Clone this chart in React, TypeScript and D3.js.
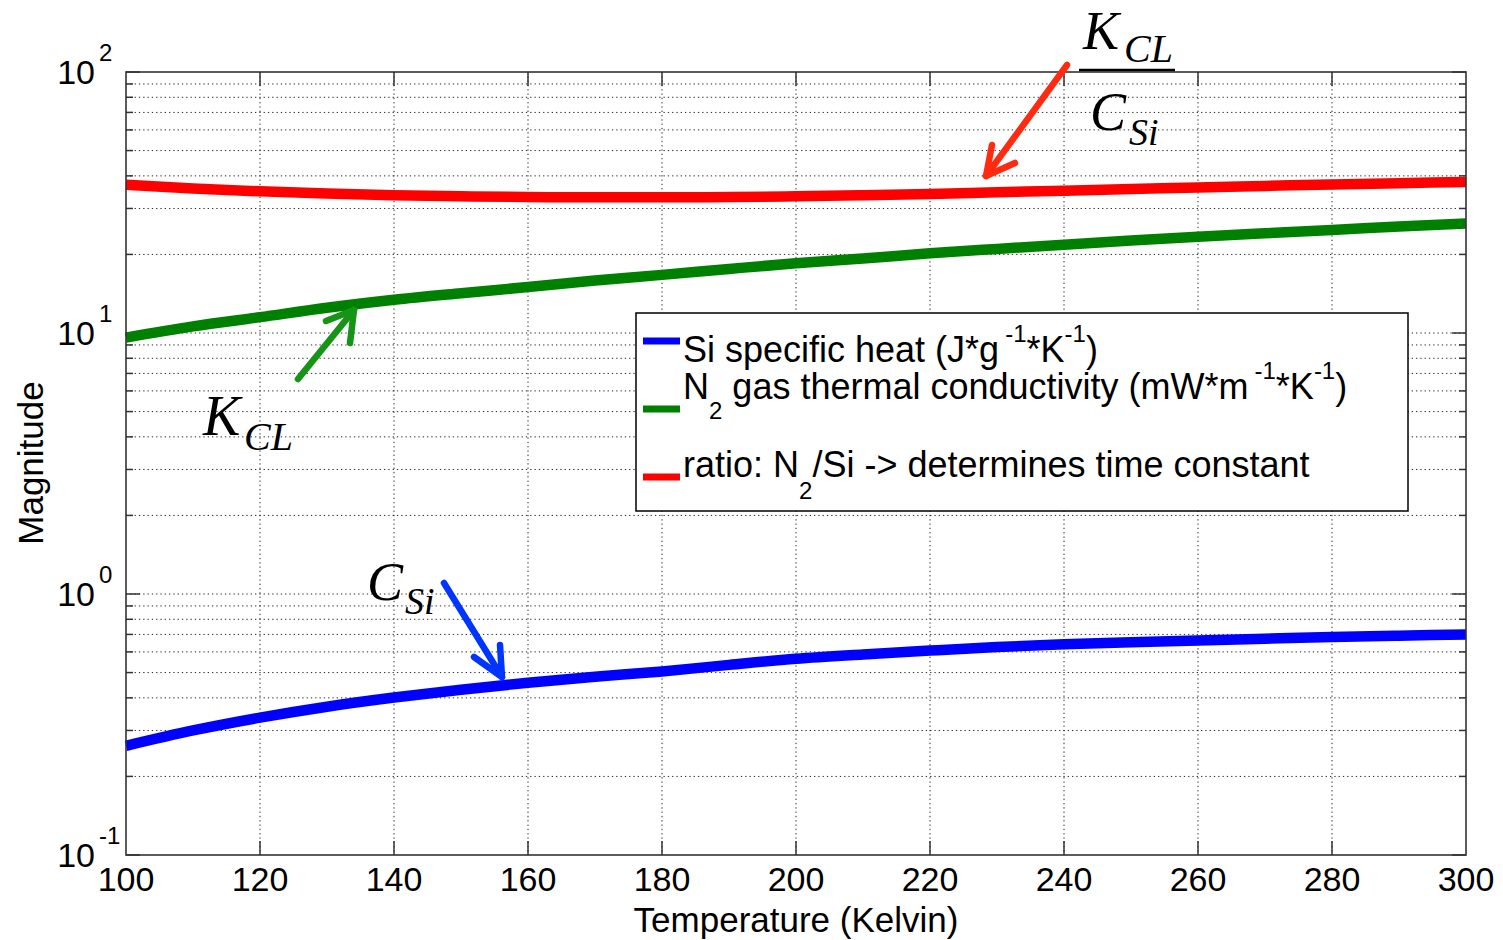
import * as d3 from 'd3';

// temperature samples (Kelvin)
const temps = [100, 110, 120, 130, 140, 150, 160, 170, 180, 190, 200, 210, 220, 230, 240, 250, 260, 270, 280, 290, 300];

// Si specific heat (J*g^-1*K^-1)
const siHeat = [0.262, 0.3, 0.336, 0.37, 0.401, 0.43, 0.457, 0.482, 0.505, 0.535, 0.565, 0.587, 0.607, 0.626, 0.642, 0.654, 0.664, 0.674, 0.684, 0.692, 0.7];

// N2 gas thermal conductivity (mW*m^-1*K^-1)
const n2Cond = [9.6, 10.6, 11.5, 12.5, 13.4, 14.2, 15.0, 15.9, 16.7, 17.6, 18.5, 19.3, 20.2, 21.0, 21.8, 22.6, 23.4, 24.1, 24.8, 25.6, 26.3];

// ratio N2/Si
const ratio = [37.0, 35.8, 34.9, 34.2, 33.7, 33.4, 33.2, 33.1, 33.1, 33.2, 33.4, 33.7, 34.1, 34.6, 35.1, 35.6, 36.1, 36.6, 37.1, 37.5, 37.9];

const xTicks = [100, 120, 140, 160, 180, 200, 220, 240, 260, 280, 300];
const yDecades = [-1, 0, 1, 2];

const W = 1503;
const H = 940;
const left = 126, right = 1466, top = 72, bottom = 855;
const SANS = "'Liberation Sans', Arial, Helvetica, sans-serif";
const SERIF = "'Liberation Serif', 'Times New Roman', serif";

export default function App() {
  const x = d3.scaleLinear().domain([100, 300]).range([left, right]);
  const y = d3.scaleLog().domain([0.1, 100]).range([bottom, top]);

  const line = d3.line<number>()
    .x((_, i) => x(temps[i]))
    .y(d => y(d))
    .curve(d3.curveMonotoneX);

  // grid values 1..9 per decade
  const gridVals: { v: number; major: boolean }[] = [];
  yDecades.slice(0, 3).forEach(d => {
    for (let k = 1; k <= 9; k++) gridVals.push({ v: k * Math.pow(10, d), major: k === 1 });
  });
  gridVals.push({ v: 100, major: true });

  const dotted = { stroke: '#111', strokeWidth: 1, strokeDasharray: '1.3,3', opacity: 0.9 };

  const series = [
    { values: ratio, color: '#ff0000' },
    { values: n2Cond, color: '#008000' },
    { values: siHeat, color: '#0000ff' },
  ];

  return (
    <svg width={W} height={H} style={{ position: 'absolute', left: 0, top: 0, background: '#fff' }}>
      <rect x={0} y={0} width={W} height={H} fill="#fff" />

      {/* grid */}
      {xTicks.slice(1, -1).map(t => (
        <line key={'gx' + t} x1={x(t)} x2={x(t)} y1={top} y2={bottom} {...dotted} />
      ))}
      {gridVals.filter(g => g.v > 0.1 && g.v < 100).map(g => (
        <line key={'gy' + g.v} x1={left} x2={right} y1={y(g.v)} y2={y(g.v)} {...dotted} />
      ))}

      {/* ticks */}
      {xTicks.slice(1, -1).map(t => (
        <g key={'tx' + t} stroke="#333" strokeWidth={1.5}>
          <line x1={x(t)} x2={x(t)} y1={bottom} y2={bottom - 14} />
          <line x1={x(t)} x2={x(t)} y1={top} y2={top + 14} />
        </g>
      ))}
      {gridVals.map(g => {
        const len = g.major ? 14 : 7;
        return (
          <g key={'ty' + g.v} stroke="#333" strokeWidth={1.5}>
            <line x1={left} x2={left + len} y1={y(g.v)} y2={y(g.v)} />
            <line x1={right} x2={right - len} y1={y(g.v)} y2={y(g.v)} />
          </g>
        );
      })}

      {/* data lines */}
      {series.map((s, i) => (
        <path key={i} d={line(s.values) || ''} fill="none" stroke={s.color} strokeWidth={10.5} strokeLinejoin="round" />
      ))}

      {/* axes box */}
      <rect x={left} y={top} width={right - left} height={bottom - top} fill="none" stroke="#333" strokeWidth={1.6} />

      {/* x tick labels */}
      {xTicks.map(t => (
        <text key={'lx' + t} x={x(t)} y={891} textAnchor="middle" fontFamily={SANS} fontSize={34} fill="#000">{t}</text>
      ))}
      {/* y tick labels */}
      {yDecades.map(d => (
        <g key={'ly' + d} fontFamily={SANS} fill="#000">
          <text x={95} y={y(Math.pow(10, d)) + 12} textAnchor="end" fontSize={34}>10</text>
          <text x={99} y={y(Math.pow(10, d)) - 11} fontSize={24}>{d}</text>
        </g>
      ))}

      {/* axis titles */}
      <text x={796} y={932} textAnchor="middle" fontFamily={SANS} fontSize={35} fill="#000">Temperature (Kelvin)</text>
      <text transform="translate(43,463) rotate(-90)" textAnchor="middle" fontFamily={SANS} fontSize={35} fill="#000">Magnitude</text>

      {/* legend */}
      <rect x={636} y={313} width={772} height={198} fill="#fff" stroke="#000" strokeWidth={1.5} />
      <line x1={643} x2={680} y1={341} y2={341} stroke="#0000ff" strokeWidth={7} />
      <line x1={643} x2={680} y1={409} y2={409} stroke="#008000" strokeWidth={7} />
      <line x1={643} x2={680} y1={477} y2={477} stroke="#ff0000" strokeWidth={7} />
      <g fontFamily={SANS} fontSize={36} fill="#000">
        <text x={683} y={362}>
          Si specific heat (J*g<tspan dx={6} dy={-20} fontSize={24}>-1</tspan><tspan dy={20}>*K</tspan><tspan dy={-20} fontSize={24}>-1</tspan><tspan dy={20}>)</tspan>
        </text>
        <text x={683} y={399}>
          N<tspan dy={20} fontSize={24}>2</tspan><tspan dy={-20}> gas thermal conductivity (mW*m</tspan><tspan dx={6} dy={-20} fontSize={24}>-1</tspan><tspan dy={20}>*K</tspan><tspan dy={-20} fontSize={24}>-1</tspan><tspan dy={20}>)</tspan>
        </text>
        <text x={683} y={477}>
          ratio: N<tspan dy={22} fontSize={24}>2</tspan><tspan dy={-22}>/Si -&gt; determines time constant</tspan>
        </text>
      </g>

      {/* annotations: K_CL / C_Si */}
      <g fontFamily={SERIF} fontStyle="italic" fill="#000">
        <text x={1083} y={49} fontSize={54}>K</text>
        <text x={1124} y={62} fontSize={40}>CL</text>
        <line x1={1079} x2={1175} y1={70} y2={70} stroke="#000" strokeWidth={2.5} />
        <text x={1090} y={130} fontSize={54}>C</text>
        <text x={1129} y={145} fontSize={38}>Si</text>

        <text x={203} y={435} fontSize={56}>K</text>
        <text x={244} y={450} fontSize={40}>CL</text>

        <text x={367} y={600} fontSize={54}>C</text>
        <text x={405} y={614} fontSize={38}>Si</text>
      </g>

      {/* arrows */}
      <g fill="none" strokeLinecap="round" strokeLinejoin="round">
        <g stroke="#ff2a10" strokeWidth={6.5}>
          <line x1={1067} x2={986} y1={65} y2={176} />
          <polyline points="992,145 986,176 1015,163" />
        </g>
        <g stroke="#159415" strokeWidth={6.5}>
          <line x1={298} x2={354} y1={379} y2={310} />
          <polyline points="326,321 354,310 350,343" />
        </g>
        <g stroke="#0035ff" strokeWidth={6.5}>
          <line x1={444} x2={502} y1={583} y2={677} />
          <polyline points="474,657 502,677 500,645" />
        </g>
      </g>
    </svg>
  );
}
